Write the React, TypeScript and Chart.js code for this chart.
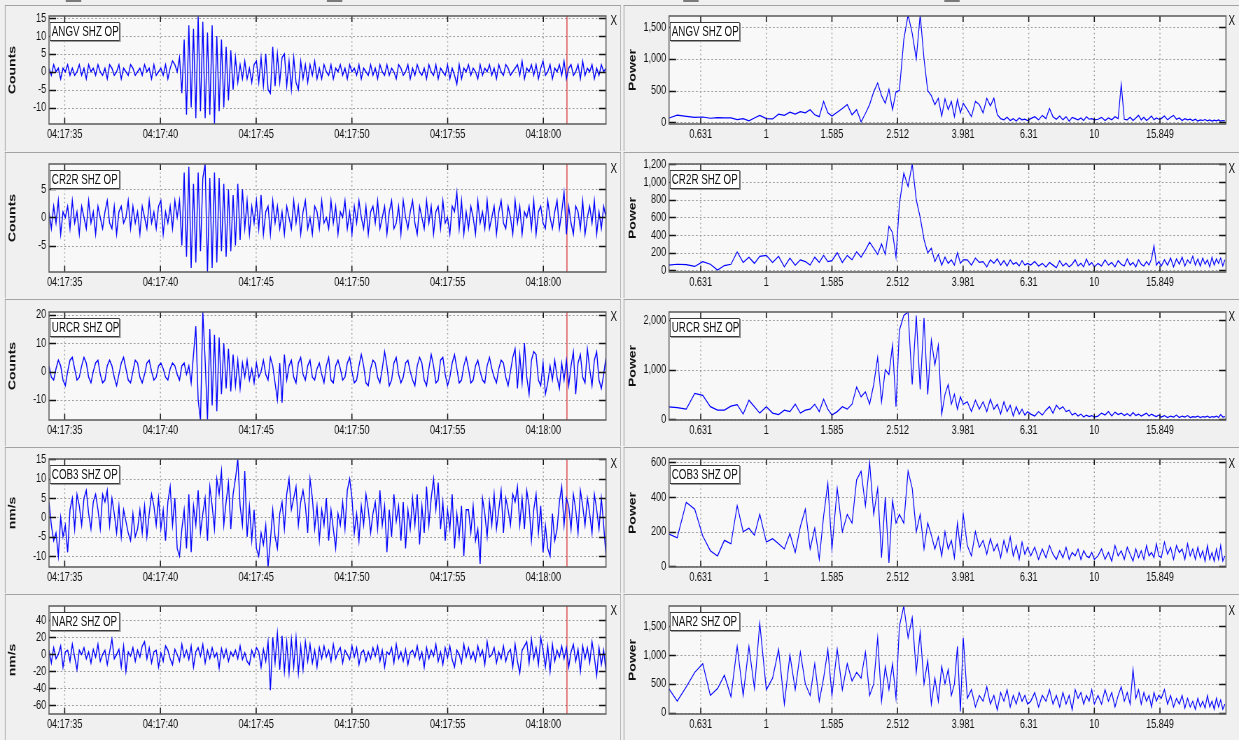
import React, { useEffect, useRef } from 'react';
import { Chart, registerables } from 'chart.js';

Chart.register(...registerables);

// ---------------- data ----------------
const STATIONS = ['ANGV SHZ OP', 'CR2R SHZ OP', 'URCR SHZ OP', 'COB3 SHZ OP', 'NAR2 SHZ OP'];
const WAVE_UNITS = ['Counts', 'Counts', 'Counts', 'nm/s', 'nm/s'];
const SPEC_UNIT = 'Power';

// seconds after 04:17:00
const TRACE_START_S = 34.18;
const TRACE_END_S = 63.27;
const MARKER_TIME_S = 61.23;

const TIME_TICK_VALUES = [35, 40, 45, 50, 55, 60];
const TIME_TICK_LABELS = ['04:17:35', '04:17:40', '04:17:45', '04:17:50', '04:17:55', '04:18:00'];

const FREQ_MIN = 0.505;
const FREQ_MAX = 25.2;
const FREQ_TICK_VALUES = [0.631, 1, 1.585, 2.512, 3.981, 6.31, 10, 15.849];
const FREQ_TICK_LABELS = ['0.631', '1', '1.585', '2.512', '3.981', '6.31', '10', '15.849'];

const FREQ_HZ = [
  0.5, 0.535, 0.57, 0.605, 0.64, 0.675, 0.71, 0.745, 0.78, 0.815, 0.85, 0.885, 0.92, 0.955, 1.0,
  1.045, 1.09, 1.135, 1.18, 1.225, 1.27, 1.315, 1.36, 1.405, 1.45, 1.495, 1.54, 1.585,
  1.645, 1.705, 1.765, 1.825, 1.885, 1.945, 2.005, 2.065, 2.125, 2.185, 2.245, 2.305, 2.365, 2.425, 2.485,
  2.545, 2.625, 2.705, 2.785, 2.865, 2.945, 3.025, 3.105, 3.185, 3.265, 3.345, 3.425, 3.505, 3.585, 3.665, 3.745, 3.825, 3.905, 3.985,
  4.1, 4.22, 4.34, 4.46, 4.58, 4.7, 4.82, 4.94, 5.06, 5.18, 5.3, 5.42, 5.54, 5.66, 5.78, 5.9, 6.02, 6.14, 6.26,
  6.4, 6.58, 6.76, 6.94, 7.12, 7.3, 7.48, 7.66, 7.84, 8.02, 8.2, 8.38, 8.56, 8.74, 8.92, 9.1, 9.28, 9.46, 9.64, 9.82, 10.0,
  10.26, 10.52, 10.78, 11.04, 11.3, 11.56, 11.82, 12.08, 12.34, 12.6, 12.86, 13.12, 13.38, 13.64, 13.9, 14.16, 14.42, 14.68, 14.94, 15.2, 15.46, 15.72,
  16.0, 16.36, 16.72, 17.08, 17.44, 17.8, 18.16, 18.52, 18.88, 19.24, 19.6, 19.96, 20.32, 20.68, 21.04, 21.4, 21.76, 22.12, 22.48, 22.84, 23.2, 23.56, 23.92, 24.28, 24.64, 25.0,
];

const ANGV_WAVE = [
  1, -1, 2, 0, 1, -2, 1, 0, 2, -1, 1, -1, 0, 2, -1, 1, -2, 2, 0, 1,
  -1, 2, 0, -1, 1, -2, 2, 1, -1, 0, 2, -2, 1, 0, -1, 2, 1, -1, 0, 1,
  -1, 2, 0, 1, -2, 2, -1, 0, 1, -1, 2, -2, 1, 3, 2, 0, 4, -6, 9, -12,
  13, -10, 12, -13, 15.6, -11, 14, -13, 11, -12, 13, -14.6, 10, -11, 9, -10, 7, -8, 6, -5,
  4, -3, 2, -2, 3, -2, 1, -3, 2, 3, -3, 4, -4, 5, -5, -6, 7, -4, 5, -3,
  4, 5, -4, 3, -5, 4, -3, -5, 3, -2, 2, -3, 2, -1, 3, -2, 1, -2, 2, 0,
  -1, 2, -2, 1, 0, 2, -1, 1, -2, 2, 0, 1, -1, 2, -2, 1, 0, -1, 2, -1,
  1, -2, 2, 0, -1, 2, -1, 1, 0, -2, 2, 1, -1, 0, 2, -2, 1, -1, 2, 0,
  -1, 1, -2, 2, 0, -1, 2, -2, 1, 0, -1, 2, -2, 1, -1, -3.5, 2, -2, 1, 0,
  2, -1, 1, 0, -2, 2, -1, 1, 0, 2, -1, 1, -2, 2, 0, -1, 2, 1, -1, 0,
  1, 2, -1, 3, -2, 1, 0, 2, -1, 2, -2, 1, 3, -1, 0, 2, -2, 1, 0, 2,
  -1, 3, -2, 1, 2, -1, 0, 2, -2, 3, -1, 1, 0, 2, -2, 1, -1, 2, 0, 1,
];

const CR2R_WAVE = [
  1, -2, 2, -1, 3, -3, 1, 0, 2, -2, 3, -1, 1, -3, 2, 0, -2, 3, -1, 1,
  -3, 2, 0, -2, 1, 3, -1, -2, 2, -3, 1, 2, -1, 0, 3, -2, 2, -1, 1, -3,
  2, 0, -2, 3, -1, 1, -2, 2, 3, -3, 1, -1, 2, -2, 3, 0, 3, -5, 8, -7,
  9, -9, 6, -8, 8, -6, 7, 9.5, -9.7, 7, -9, 8, -8, 7, -6, 6, -7, 5, -6, 4,
  -5, 6, -4, 5, -2, 3, -3, 2, -1, 3, -2, 4, -3, 1, 2, -3, 3, -1, 2, -2,
  1, -3, 2, 0, -2, 3, -1, 2, -3, 1, 3, -2, 0, -3, 2, 1, -2, 3, -1, 0,
  -2, 3, -1, 2, -3, 1, 0, 3, -2, 1, -3, 2, -1, 3, 0, -2, 2, -3, 1, 2,
  -1, 3, -2, 0, 2, -3, 1, 3, -2, -1, 2, -3, 3, 0, -2, 1, 3, -1, -3, 2,
  0, -2, 3, -1, 2, -3, 1, 2, -2, 3, -1, 0, -3, 2, 1, 4.5, -2, 3, -3, 1,
  -2, 2, 0, -3, 3, -1, 1, -2, 3, -2, 0, 2, -3, 1, 3, -1, -2, 2, 0, -3,
  3, -1, 2, -3, 1, 0, 2, -2, 3, -3, 1, 2, -1, -2, 3, 0, -2, 1, 3, -2,
  1, 4.5, -3, 2, -1, -3, 2, 1, -2, 3, -3, 0, 2, -1, 3, -3, 1, -2, 2, 0,
];

const URCR_WAVE = [
  2, -2, -3, 1, 4, 2, -3, -5, 0, 4, 5, 1, -3, -2, 2, 5, 3, -2, -4, 0,
  3, 4, -1, -4, -3, 2, 4, 2, -2, -5, -1, 3, 5, 1, -3, -4, 0, 4, 3, -2,
  -4, -1, 3, 4, 0, -3, -2, 2, 3, 1, -2, -3, 1, 3, 2, -1, -3, 2, 3, -1,
  2, -4, 6, 16, -10, -17.1, 21, 4, -17, 15, -12, 13, -14, 12, -8, 10, -6, 8, -7, 6,
  -5, 4, -6, 3, -2, 4, -3, 1, -4, 3, -2, 0, 4, -1, -3, 5, 2, -4, -10, 3,
  -11, 6, -3, 2, 4, -2, -4, 3, 5, -1, -3, 2, 4, -2, -3, 1, 3, -1, -4, 2,
  5, -3, -4, 2, 4, 1, -3, -2, 3, 5, 0, -4, -3, 2, 6, 2, -4, -5, 1, 4,
  3, -2, -4, 1, 7, 2, -5, -3, 3, 5, -1, -4, -2, 3, 4, 0, -3, -5, 2, 5,
  3, -3, -5, 1, 6, 2, -4, -3, 4, 5, -1, -5, -2, 3, 6, 1, -4, -3, 2, 5,
  1, -4, -3, 2, 4, 0, -3, -4, 2, 5, 1, -2, -4, 1, 4, 3, -2, -5, 0, 5,
  8, -6, 6, -4, 10, -2, -8, 4, 7, 6, -3, -5, 3, -8, -4, 2, -3, 4, -2, -6,
  3, -3, 4, -5, 2, 7, -8, 3, 6, -2, -4, 8, 1, -5, 4, 7, -3, -6, -1, 5,
];

const COB3_WAVE = [
  4, -2, -6, -4, -10, 0, -5, -2, -9, 2, 5, -3, 6, 3, -2, 5, 7, 1, -3, 4,
  6, 2, -3, 6, 4, 7, -2, 5, 1, -4, 3, -5, 2, -1, -4, -6, 1, -5, -3, 2,
  -4, 3, -5, 1, 6, 3, -2, 5, -3, 2, -6, 4, 8, -2, 5, -8, -10, -3, 2, -8,
  6, -9, 3, -2, 7, -4, 1, 5, -6, 8, 3, -3, 10, 6, 12, -2, 4, 9, -3, 6,
  10, 15.1, 3, -2, 12, -5, 3, -6, 2, -8, -10, -4, -7, -2, -12.8, -6, 2, -5, -8, 1,
  4, -3, 6, 10, 2, 5, 8, -2, 4, 7, 3, -4, 10, 5, -3, 3, -6, 2, -2, 5,
  -6, 2, -3, -8, 1, -2, 4, -3, 7, 10, 5, -4, 1, -6, 3, -2, 6, 2, -4, 1,
  4, -3, 7, -2, 3, -9, 2, -5, 6, -1, 3, -6, 4, -8, 2, -3, 5, -2, 6, -7,
  3, -4, 8, -2, 5, 10, 2, 9, -3, 4, -6, 2, -3, 6, -8, 1, -5, 3, -10, 2,
  2, -4, 3, -6, -3, -12, 5, 1, -5, 4, -2, 6, -3, 2, 7, -4, 5, 2, -2, 6,
  4, 8, -2, 5, -3, 7, 3, -6, 2, 6, -4, 3, -9, -2, -8, -10, 1, -6, -3, 4,
  8, -2, 5, 3, -3, 6, 2, -4, 7, 3, -2, 5, 1, -4, 6, 2, -3, 5, -2, -10,
];

const NAR2_WAVE = [
  5, -10, 8, -5, 0, 10, -15, 3, 5, -8, 12, -3, -18, 5, 0, 8, -5, 3, -10, 6,
  -3, 12, -8, 0, 5, -12, 3, 18, -5, 0, 6, -15, 10, -20, 3, -2, 8, -8, 5, -3,
  10, 15, -5, 8, -10, 3, 5, -15, 2, -8, 10, 5, -5, -12, 6, 0, -8, 12, -3, 5,
  -6, 10, -15, 3, 8, -2, 12, -10, 5, -5, 8, -3, 2, -16, 7, -4, 6, -8, 3, -2,
  5, -5, 10, -6, 2, -8, -12, 5, -3, 8, 3, -15, 6, -8, 15, -42, 20, -10, 25, -18,
  22, -20, 15, -22, 18, -15, 20, -22, 10, -18, 15, -8, 12, -10, 5, -15, 8, -5, 10, -3,
  5, -8, 12, -5, 3, 8, -10, 5, 0, -6, 10, -3, 8, -12, 2, 5, -8, 3, -5, 8,
  -2, 10, -8, 5, -15, 3, 0, 8, -10, 12, -5, 3, -8, 6, -12, 2, 5, -3, 10, -6,
  3, -15, 8, -5, 5, -2, 12, -8, 3, -12, 8, -4, 10, -6, -15, 5, 0, -10, 12, -3,
  8, -5, 3, -8, 10, -2, 5, -12, 15, -3, 0, 8, -10, 3, -5, 10, -8, 2, 6, -15,
  12, -8, -22, 5, 10, 15, -10, 18, -5, 8, -12, 20, 5, -15, 10, -20, 12, -8, 5, -3,
  10, -5, 8, -15, 3, 12, -8, 6, -20, 10, -5, 8, -10, 15, -3, -25, 8, -12, 5, -20,
];

const ANGV_SPEC = [
  60, 115, 95, 80, 85, 65, 75, 70, 70, 45, 60, 25, 70, 110, 60,
  55, 130, 110, 160, 130, 170, 150, 200, 120, 90, 330, 150, 100,
  160, 220, 280, 120, 200, 10, 140, 280, 480, 620, 420, 300, 520, 200, 480,
  500, 1300, 1690, 1400, 1000, 1690, 1000, 500, 420, 280, 380, 100, 370, 200, 330, 90, 360, 150, 300,
  200, 90, 330, 280, 150, 380, 260, 380, 120, 60, 40, 80, 30, 60, 20, 70, 40, 50, 30,
  60, 90, 40, 110, 60, 220, 90, 50, 100, 40, 90, 20, 80, 60, 40, 70, 30, 90, 50, 60, 40,
  50, 80, 30, 70, 40, 90, 60, 600, 50, 40, 80, 30, 70, 110, 40, 80, 30, 60, 100, 40, 70, 50,
  60, 100, 40, 80, 110, 50, 70, 30, 60, 40, 50, 30, 50, 20, 40, 30, 45, 25, 40, 20, 35, 25, 40, 20, 30, 25,
];

const CR2R_SPEC = [
  60, 70, 65, 45, 100, 70, 5, 55, 70, 210, 90, 150, 80, 160, 170,
  90, 160, 40, 140, 60, 120, 100, 60, 150, 90, 170, 100, 110,
  200, 90, 170, 120, 210, 150, 230, 320, 250, 180, 300, 180, 500, 430, 150,
  750, 1100, 950, 1205, 800, 600, 350, 200, 250, 100, 180, 60, 150, 80, 120, 60, 200, 80, 120,
  120, 60, 140, 90, 100, 40, 120, 80, 130, 60, 110, 50, 120, 70, 90, 50, 110, 60, 80,
  60, 100, 50, 80, 40, 90, 60, 30, 110, 50, 80, 40, 70, 120, 50, 80, 40, 130, 60, 90, 40,
  80, 50, 120, 60, 90, 40, 110, 70, 50, 130, 60, 90, 40, 120, 70, 50, 100, 60, 130, 280, 60, 100,
  50, 120, 60, 140, 40, 130, 70, 150, 50, 120, 80, 160, 60, 130, 50, 140, 70, 120, 40, 150, 60, 130, 80, 140, 50, 120,
];

const URCR_SPEC = [
  250, 230, 200, 520, 480, 250, 180, 180, 260, 290, 100, 380, 250, 120, 250,
  120, 90, 180, 150, 300, 120, 180, 200, 300, 150, 400, 200, 80,
  150, 250, 200, 300, 650, 450, 550, 300, 700, 1250, 350, 1000, 900, 1500, 250,
  1800, 2100, 2170, 700, 2100, 600, 2050, 500, 1600, 1100, 1500, 100, 500, 700, 300, 500, 200, 450, 300,
  350, 150, 380, 200, 350, 150, 400, 200, 300, 100, 350, 150, 280, 60, 250, 100, 200, 80, 150,
  100, 60, 150, 80, 180, 250, 120, 280, 200, 250, 150, 180, 80, 120, 60, 100, 40, 80, 50, 70, 40,
  60, 120, 80, 150, 60, 140, 90, 120, 70, 110, 60, 130, 70, 100, 60, 90, 120, 60, 100, 70, 50, 80,
  40, 70, 30, 60, 40, 80, 30, 60, 40, 70, 30, 50, 40, 60, 30, 50, 40, 60, 30, 50, 40, 60, 30, 90, 40, 50,
];

const COB3_SPEC = [
  190, 165, 370, 330, 175, 90, 60, 150, 130, 350, 200, 220, 180, 300, 140,
  160, 130, 100, 190, 80, 230, 330, 100, 220, 40, 290, 480, 100,
  450, 200, 300, 250, 500, 550, 350, 600, 300, 450, 50, 400, 20, 380, 250,
  300, 250, 550, 450, 200, 300, 100, 250, 180, 100, 170, 60, 200, 100, 150, 50, 250, 100, 300,
  120, 60, 200, 110, 150, 70, 160, 90, 130, 50, 150, 80, 170, 60, 120, 40, 140, 70, 110,
  60, 110, 40, 100, 50, 120, 70, 40, 90, 50, 110, 40, 80, 60, 100, 40, 90, 60, 50, 80, 40,
  60, 100, 40, 80, 30, 120, 60, 90, 40, 110, 70, 30, 100, 50, 90, 40, 120, 60, 80, 50, 130, 60,
  50, 140, 70, 110, 40, 120, 80, 100, 40, 130, 60, 100, 40, 110, 50, 90, 30, 120, 40, 80, 30, 100, 40, 120, 30, 60,
];

const NAR2_SPEC = [
  450, 200, 450, 700, 850, 300, 420, 650, 280, 1150, 300, 1150, 420, 1550, 400,
  600, 1100, 150, 1000, 400, 1050, 500, 300, 850, 200, 600, 1100, 300,
  1100, 400, 850, 550, 700, 600, 1050, 300, 500, 1300, 200, 800, 400, 850, 250,
  1500, 1851, 1300, 1650, 700, 1400, 500, 900, 150, 600, 200, 800, 500, 750, 300, 500, 1150, 20, 1300,
  250, 400, 100, 300, 200, 450, 150, 300, 50, 350, 200, 400, 100, 300, 150, 350, 200, 300, 150,
  200, 350, 100, 300, 200, 400, 150, 300, 100, 350, 150, 300, 50, 400, 250, 350, 150, 300, 200, 400, 150,
  300, 150, 400, 200, 350, 100, 300, 450, 200, 350, 150, 750, 250, 400, 150, 350, 200, 300, 100, 350, 200, 300,
  250, 400, 150, 300, 100, 250, 150, 300, 80, 250, 100, 200, 60, 250, 100, 200, 80, 300, 100, 200, 60, 250, 100, 220, 60, 150,
];

const WAVES = [ANGV_WAVE, CR2R_WAVE, URCR_WAVE, COB3_WAVE, NAR2_WAVE];
const SPECTRA = [ANGV_SPEC, CR2R_SPEC, URCR_SPEC, COB3_SPEC, NAR2_SPEC];

const WAVE_Y_MIN = [-14.6, -9.7, -17.1, -12.8, -70];
const WAVE_Y_MAX = [15.6, 9.5, 21, 15.1, 57];
const WAVE_Y_TICKS = [
  [-10, -5, 0, 5, 10, 15],
  [-5, 0, 5],
  [-10, 0, 10, 20],
  [-10, -5, 0, 5, 10, 15],
  [-60, -40, -20, 0, 20, 40],
];
const SPEC_Y_MIN = [-25, -18, -20, -4, -22];
const SPEC_Y_MAX = [1672, 1205, 2170, 620, 1851];
const SPEC_Y_TICKS = [
  [0, 500, 1000, 1500],
  [0, 200, 400, 600, 800, 1000, 1200],
  [0, 1000, 2000],
  [0, 200, 400, 600],
  [0, 500, 1000, 1500],
];

// ---------------- style / layout (unsquashed px) ----------------
const SQUASH = 0.7;
const PAGE_W = 1239 / SQUASH;
const PAGE_H = 740;
const FONT = '"Liberation Sans", Arial, Helvetica, sans-serif';
const PAGE_BG = '#f0f0f0';
const PLOT_BG = '#f8f8f8';
const TRACE_COLOR = '#0000ff';
const MARKER_COLOR = '#d94040';
const GRID_COLOR = '#9a9a9a';

const PLOT_TOPS = [16, 164, 312, 459, 606];
const PANEL_TOPS = [5, 152, 299, 447, 594];
const PLOT_H = 108;
const PAD_TOP = 12;
const X_AXIS_H = 26;
const CANVAS_H = PAD_TOP + PLOT_H + X_AXIS_H;

const LEFT_GEOM = { canvasX: 0, canvasW: 887, yAxisW: 70, padRight: 21.3, titlePad: 10, closeX: 872, frameX: 7, frameW: 880 };
const RIGHT_GEOM = { canvasX: 888, canvasW: 882, yAxisW: 67.7, padRight: 18.6, titlePad: 8, closeX: 1755, frameX: 891, frameW: 900 };

Chart.defaults.font.family = FONT;

const matlabAxes = {
  id: 'matlabAxes',
  beforeDatasetsDraw(chart: any) {
    const { ctx, chartArea: a, scales } = chart;
    const x = scales.x;
    const y = scales.y;
    ctx.save();
    ctx.fillStyle = PLOT_BG;
    ctx.fillRect(a.left, a.top, a.right - a.left, a.bottom - a.top);
    ctx.strokeStyle = GRID_COLOR;
    ctx.lineWidth = 1.4;
    ctx.setLineDash([1.4, 2.8]);
    ctx.beginPath();
    for (const t of x.ticks) {
      const px = x.getPixelForValue(t.value);
      ctx.moveTo(px, a.top);
      ctx.lineTo(px, a.bottom);
    }
    ctx.stroke();
    ctx.lineWidth = 1;
    ctx.setLineDash([2.5, 3]);
    ctx.beginPath();
    for (const t of y.ticks) {
      const py = Math.round(y.getPixelForValue(t.value)) + 0.5;
      ctx.moveTo(a.left, py);
      ctx.lineTo(a.right, py);
    }
    ctx.stroke();
    ctx.restore();
  },
  afterDatasetsDraw(chart: any) {
    const { ctx, chartArea: a, scales } = chart;
    const x = scales.x;
    const y = scales.y;
    ctx.save();
    ctx.setLineDash([]);
    ctx.strokeStyle = '#111';
    ctx.lineWidth = 1.5;
    ctx.beginPath();
    for (const t of x.ticks) {
      const px = x.getPixelForValue(t.value);
      ctx.moveTo(px, a.top);
      ctx.lineTo(px, a.top + 6);
      ctx.moveTo(px, a.bottom);
      ctx.lineTo(px, a.bottom - 6);
    }
    ctx.stroke();
    ctx.lineWidth = 1.6;
    ctx.beginPath();
    for (const t of y.ticks) {
      const py = Math.round(y.getPixelForValue(t.value)) + 0.5;
      ctx.moveTo(a.left, py);
      ctx.lineTo(a.left + 10, py);
      ctx.moveTo(a.right, py);
      ctx.lineTo(a.right - 10, py);
    }
    ctx.stroke();
    ctx.strokeStyle = '#5a5a5a';
    ctx.lineWidth = 1.5;
    ctx.strokeRect(a.left, a.top, a.right - a.left, a.bottom - a.top);
    ctx.restore();
  },
};

function buildConfig(kind: 'wave' | 'spec', row: number): any {
  const isWave = kind === 'wave';
  const g = isWave ? LEFT_GEOM : RIGHT_GEOM;
  const values = isWave ? WAVES[row] : SPECTRA[row];
  const yMin = isWave ? WAVE_Y_MIN[row] : SPEC_Y_MIN[row];
  const yMax = isWave ? WAVE_Y_MAX[row] : SPEC_Y_MAX[row];
  const yTicks = isWave ? WAVE_Y_TICKS[row] : SPEC_Y_TICKS[row];
  const xTicks = isWave ? TIME_TICK_VALUES : FREQ_TICK_VALUES;
  const xLabels = isWave ? TIME_TICK_LABELS : FREQ_TICK_LABELS;
  const dt = (TRACE_END_S - TRACE_START_S) / (values.length - 1);
  const points = isWave
    ? values.map((v, i) => ({ x: TRACE_START_S + i * dt, y: v }))
    : values.slice(0, FREQ_HZ.length).map((v, i) => ({ x: FREQ_HZ[i], y: v }));
  const datasets: any[] = [
    { data: points, borderColor: TRACE_COLOR, borderWidth: isWave ? 1.4 : 1.2, pointRadius: 0, tension: 0, fill: false },
  ];
  if (isWave) {
    datasets.push({
      data: [{ x: MARKER_TIME_S, y: yMin }, { x: MARKER_TIME_S, y: yMax }],
      borderColor: MARKER_COLOR, borderWidth: 1.4, pointRadius: 0, fill: false,
    });
  }
  return {
    type: 'line',
    data: { datasets },
    options: {
      animation: false,
      responsive: false,
      devicePixelRatio: 1,
      events: [],
      layout: { padding: { left: 0, top: PAD_TOP, right: g.padRight, bottom: 0 } },
      plugins: { legend: { display: false }, tooltip: { enabled: false }, title: { display: false } },
      scales: {
        x: {
          type: isWave ? 'linear' : 'logarithmic',
          min: isWave ? TRACE_START_S : FREQ_MIN,
          max: isWave ? TRACE_END_S : FREQ_MAX,
          bounds: 'data',
          afterBuildTicks: (s: any) => { s.ticks = xTicks.map((v) => ({ value: v })); },
          afterFit: (s: any) => { s.height = X_AXIS_H; s.paddingLeft = 0; s.paddingRight = 0; },
          grid: { display: false, drawTicks: false, tickLength: 0 },
          border: { display: false },
          ticks: {
            autoSkip: false, maxRotation: 0, minRotation: 0, padding: 3,
            font: { size: 13 }, color: '#111',
            callback: (_v: any, i: number) => xLabels[i],
          },
        },
        y: {
          type: 'linear',
          min: yMin,
          max: yMax,
          bounds: 'data',
          afterBuildTicks: (s: any) => { s.ticks = yTicks.map((v) => ({ value: v })); },
          afterFit: (s: any) => { s.width = g.yAxisW; s.paddingTop = 0; s.paddingBottom = 0; },
          grid: { display: false, drawTicks: false, tickLength: 0 },
          border: { display: false },
          ticks: {
            autoSkip: false, padding: 4, font: { size: 13 }, color: '#111',
            callback: (v: any) => (isWave ? String(v) : Number(v).toLocaleString('en-US')),
          },
          title: {
            display: true,
            text: isWave ? WAVE_UNITS[row] : SPEC_UNIT,
            font: { size: 14, weight: 'bold' },
            color: '#111',
            padding: { top: g.titlePad, bottom: 0 },
          },
        },
      },
    },
    plugins: [matlabAxes],
  };
}

function PlotPanel({ kind, row }: { kind: 'wave' | 'spec'; row: number }) {
  const ref = useRef<HTMLCanvasElement>(null);
  const g = kind === 'wave' ? LEFT_GEOM : RIGHT_GEOM;
  useEffect(() => {
    if (!ref.current) return;
    const chart = new Chart(ref.current, buildConfig(kind, row));
    return () => chart.destroy();
  }, [kind, row]);
  const plotTop = PLOT_TOPS[row];
  const plotLeft = g.canvasX + g.yAxisW;
  return (
    <>
      <div
        style={{
          position: 'absolute', left: g.frameX, top: PANEL_TOPS[row], width: g.frameW,
          height: (row < 4 ? PANEL_TOPS[row + 1] : PAGE_H + 2) - PANEL_TOPS[row] - 1,
          borderTop: '1px solid #a3a3a3', borderLeft: '1.5px solid #a3a3a3', borderRight: kind === 'wave' ? '1.5px solid #a3a3a3' : 'none',
          boxSizing: 'border-box',
        }}
      />
      <canvas
        ref={ref}
        width={g.canvasW}
        height={CANVAS_H}
        style={{ position: 'absolute', left: g.canvasX, top: plotTop - PAD_TOP, width: g.canvasW, height: CANVAS_H }}
      />
      <div
        style={{
          position: 'absolute', left: plotLeft + 1, top: plotTop + 6, width: 100, height: 19,
          background: '#ffffff', border: '1px solid #3a3a3a', boxShadow: '1.5px 1px 0 #9a9a9a',
          boxSizing: 'border-box', font: `14px ${FONT}`, lineHeight: '17px', paddingLeft: 2,
          color: '#111', whiteSpace: 'nowrap', overflow: 'hidden',
        }}
      >
        {STATIONS[row]}
      </div>
      <div
        style={{
          position: 'absolute', left: g.closeX, top: plotTop - 4, font: `14px ${FONT}`, lineHeight: '16px', color: '#111',
        }}
      >
        X
      </div>
    </>
  );
}

const TAB_MARKS_X = [94, 467, 976, 1349];

export default function App() {
  const rows = [0, 1, 2, 3, 4];
  return (
    <div style={{ position: 'absolute', left: 0, top: 0, width: 1239, height: PAGE_H, overflow: 'hidden', background: PAGE_BG }}>
      <div
        style={{
          position: 'absolute', left: 0, top: 0, width: PAGE_W, height: PAGE_H,
          transform: `scaleX(${SQUASH})`, transformOrigin: '0 0', background: PAGE_BG, fontFamily: FONT,
        }}
      >
        {TAB_MARKS_X.map((x) => (
          <div key={x} style={{ position: 'absolute', left: x, top: 0, width: 22, height: 2, background: '#7a7a7a' }} />
        ))}
        {rows.map((r) => (
          <React.Fragment key={r}>
            <PlotPanel kind="wave" row={r} />
            <PlotPanel kind="spec" row={r} />
          </React.Fragment>
        ))}
      </div>
    </div>
  );
}
